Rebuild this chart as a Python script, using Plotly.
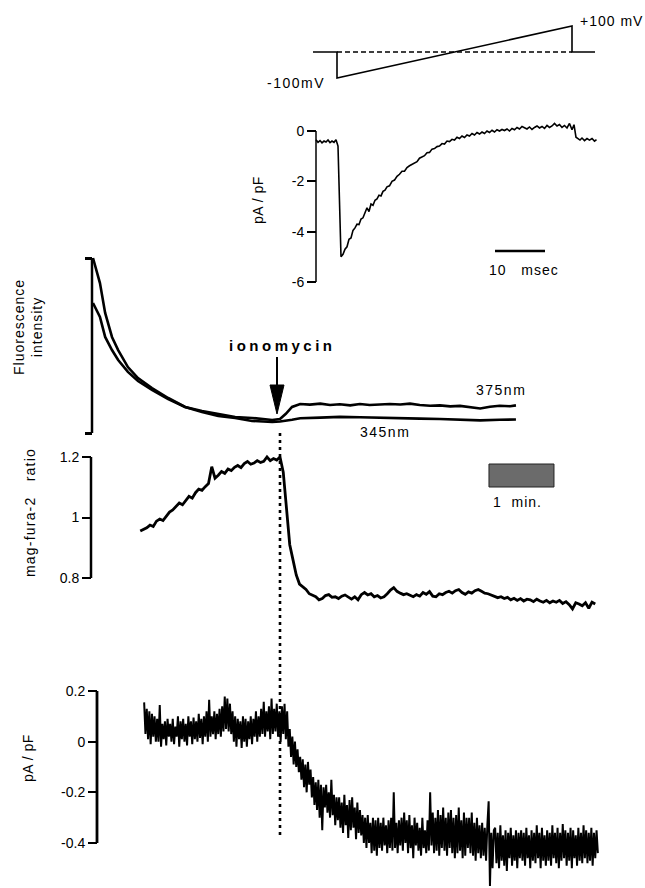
import plotly.graph_objects as go

W, H = 645, 888
FONT = "Liberation Sans, Arial, Helvetica, sans-serif"

# ---------------- data ----------------
# voltage-clamp protocol (ms, mV)
volt_t = [-4.8, 0, 0, 47, 47, 51.6]
volt_mv = [0, 0, -100, 100, 0, 0]
zero_t = [0, 47]
zero_mv = [0, 0]

# ramp current (ms, pA/pF)
ramp_t = [-4.2, -3.8, -3.4, -3.0, -2.6, -2.2, -1.8, -1.4, -1.0, -0.6, -0.2, 0.2, 0.5, 0.8,
          1.2, 1.6, 2.0, 2.4, 2.8, 3.2, 3.6, 4.0, 4.4, 4.8,
          5.2, 5.6, 6.0, 6.4, 6.8, 7.2, 7.6, 8.0, 8.4, 8.8,
          9.2, 9.6, 10.0, 10.5, 11.0, 11.5, 12.0, 12.5, 13.0, 13.5,
          14.0, 14.5, 15.0, 15.5, 16.0, 16.5, 17.0, 17.5, 18.0, 18.5,
          19.0, 19.5, 20.0, 20.5, 21.0, 21.5, 22.0, 22.5, 23.0, 23.5,
          24.0, 24.5, 25.0, 25.5, 26.0, 26.5, 27.0, 27.5, 28.0, 28.5,
          29.0, 29.5, 30.0, 30.5, 31.0, 31.5, 32.0, 32.5, 33.0, 33.5,
          34.0, 34.5, 35.0, 35.5, 36.0, 36.5, 37.0, 37.5, 38.0, 38.5,
          39.0, 39.5, 40.0, 40.5, 41.0, 41.5, 42.0, 42.5, 43.0, 43.5,
          44.0, 44.5, 45.0, 45.5, 46.0, 46.5, 47.0, 47.4, 47.8, 48.2,
          48.6, 49.0, 49.5, 50.0, 50.5, 51.0, 51.5, 51.9]
ramp_i = [-0.35, -0.45, -0.38, -0.47, -0.40, -0.44, -0.36, -0.46, -0.40, -0.45, -0.35, -0.6, -2.8, -5.0,
          -4.9, -4.7, -4.6, -4.3, -4.25, -3.95, -3.85, -3.7, -3.72, -3.5,
          -3.45, -3.25, -3.05, -3.2, -2.9, -2.95, -2.75, -2.7, -2.55, -2.58,
          -2.4, -2.35, -2.22, -2.18, -2.0, -1.95, -1.8, -1.72, -1.6, -1.6,
          -1.45, -1.38, -1.33, -1.25, -1.22, -1.08, -1.02, -0.98, -0.86, -0.85,
          -0.72, -0.7, -0.62, -0.6, -0.5, -0.52, -0.4, -0.42, -0.33, -0.36,
          -0.25, -0.3, -0.2, -0.26, -0.16, -0.2, -0.1, -0.16, -0.06, -0.12,
          -0.04, -0.1, 0.0, -0.06, 0.03, -0.04, 0.05, 0.0, 0.06, 0.02,
          0.08, 0.0, 0.1, 0.05, 0.14, 0.08, 0.18, 0.12, 0.08, 0.16,
          0.06, 0.14, 0.2, 0.12, 0.18, 0.1, 0.22, 0.14, 0.2, 0.3,
          0.2, 0.26, 0.14, 0.22, 0.12, 0.3, 0.05, 0.25, -0.25, -0.3,
          -0.36, -0.28, -0.38, -0.3, -0.36, -0.3, -0.4, -0.34]
ramp_ticks = [0, -2, -4, -6]
ramp_ticktext = ["0", "-2", "-4", "-6"]

# fluorescence intensity (min, arbitrary units)
fl_t_375 = [-2.877, -2.83, -2.77, -2.69, -2.585, -2.49, -2.34, -2.185, -1.97, -1.72, -1.46, -1.2,
            -0.95, -0.69, -0.43, -0.12, 0.0, 0.09, 0.185, 0.31, 0.46, 0.62, 0.77, 0.92, 1.08,
            1.23, 1.38, 1.54, 1.69, 1.85, 2.0, 2.15, 2.31, 2.46, 2.62, 2.77, 2.92, 3.08, 3.23,
            3.38, 3.54, 3.63]
fl_375 = [1.0, 0.94, 0.857, 0.686, 0.549, 0.474, 0.377, 0.314, 0.257, 0.2, 0.149, 0.126,
          0.109, 0.091, 0.086, 0.074, 0.08, 0.11, 0.149, 0.166, 0.162, 0.168, 0.16, 0.164, 0.158,
          0.166, 0.16, 0.162, 0.166, 0.163, 0.168, 0.16, 0.156, 0.158, 0.152, 0.155, 0.148, 0.14, 0.15,
          0.156, 0.153, 0.158]
fl_t_345 = [-2.877, -2.77, -2.69, -2.585, -2.49, -2.34, -2.185, -1.97, -1.72, -1.46, -1.2, -0.95,
            -0.69, -0.43, -0.12, 0.0, 0.185, 0.31, 0.62, 0.92, 1.23, 1.54, 1.85, 2.15, 2.46, 2.77,
            3.08, 3.38, 3.63]
fl_345 = [0.743, 0.663, 0.549, 0.474, 0.417, 0.349, 0.297, 0.246, 0.194, 0.149, 0.12, 0.097,
          0.086, 0.069, 0.063, 0.066, 0.076, 0.084, 0.088, 0.092, 0.09, 0.086, 0.084, 0.082, 0.08, 0.076,
          0.072, 0.076, 0.077]
fl_ticks = [0, 1]

# mag-fura-2 ratio, sampled every 0.05 min starting at -2.15 min
ratio_t0 = -2.15
ratio_dt = 0.05
ratio = [0.955, 0.960, 0.966, 0.975, 0.970, 0.988, 0.995, 0.990, 1.005, 1.018,
         1.025, 1.036, 1.048, 1.042, 1.058, 1.070, 1.064, 1.082, 1.094, 1.090,
         1.102, 1.112, 1.168, 1.130, 1.140, 1.152, 1.146, 1.160, 1.155, 1.166,
         1.172, 1.165, 1.178, 1.185, 1.176, 1.180, 1.188, 1.182, 1.186, 1.200,
         1.188, 1.195, 1.190, 1.200, 1.150, 1.020, 0.910, 0.860, 0.810, 0.780,
         0.772, 0.762, 0.748, 0.742, 0.738, 0.728, 0.732, 0.742, 0.745, 0.736,
         0.738, 0.732, 0.740, 0.744, 0.736, 0.730, 0.738, 0.728, 0.745, 0.752,
         0.744, 0.748, 0.738, 0.742, 0.734, 0.738, 0.748, 0.760, 0.768, 0.756,
         0.750, 0.745, 0.748, 0.742, 0.738, 0.745, 0.740, 0.752, 0.746, 0.755,
         0.740, 0.738, 0.748, 0.745, 0.752, 0.756, 0.750, 0.758, 0.762, 0.752,
         0.746, 0.754, 0.750, 0.758, 0.762, 0.756, 0.750, 0.748, 0.744, 0.740,
         0.735, 0.738, 0.732, 0.736, 0.728, 0.733, 0.726, 0.732, 0.724, 0.730,
         0.728, 0.722, 0.730, 0.724, 0.720, 0.726, 0.718, 0.724, 0.720, 0.726,
         0.716, 0.722, 0.712, 0.698, 0.718, 0.714, 0.708, 0.718, 0.700, 0.720,
         0.714]
ratio_ticks = [0.8, 1.0, 1.2]
ratio_ticktext = ["0.8", "1", "1.2"]

# whole-cell current (pA/pF), sampled every 0.02 min starting at -2.09 min
cur_t0 = -2.09
cur_dt = 0.02
cur = [0.155, 0.03, 0.13, 0.01, 0.12, -0.01, 0.11, 0.02, 0.10, 0.0,
       0.09, 0.0, 0.145, -0.02, 0.07, 0.01, 0.08, -0.015, 0.09, 0.02,
       0.07, 0.0, 0.09, -0.01, 0.06, 0.02, 0.1, -0.02, 0.08, 0.01,
       0.09, 0.0, 0.07, -0.015, 0.1, 0.02, 0.08, -0.01, 0.095, 0.01,
       0.08, 0.0, 0.11, 0.015, 0.09, -0.01, 0.1, 0.02, 0.12, 0.0,
       0.165, 0.02, 0.1, 0.03, 0.12, 0.01, 0.11, 0.03, 0.13, 0.02,
       0.14, 0.04, 0.178, 0.05, 0.17, 0.04, 0.15, 0.03, 0.12, 0.0,
       0.1, -0.02, 0.09, 0.01, 0.08, -0.025, 0.1, 0.0, 0.09, -0.02,
       0.08, 0.01, 0.1, -0.01, 0.09, 0.02, 0.12, 0.0, 0.1, 0.02,
       0.13, 0.03, 0.157, 0.02, 0.12, 0.04, 0.14, 0.01, 0.17, 0.03,
       0.13, 0.04, 0.15, 0.02, 0.12, 0.0, 0.14, 0.03, 0.15, 0.01,
       0.12, -0.02, 0.05, -0.06, 0.02, -0.09, 0.0, -0.1, -0.03, -0.12,
       -0.06, -0.15, -0.07, -0.18, -0.09, -0.2, -0.08, -0.17, -0.11, -0.22,
       -0.14, -0.25, -0.16, -0.27, -0.15, -0.3, -0.17, -0.35, -0.18, -0.26,
       -0.17, -0.28, -0.2, -0.3, -0.15, -0.29, -0.21, -0.33, -0.22, -0.31,
       -0.22, -0.34, -0.24, -0.36, -0.21, -0.33, -0.25, -0.38, -0.23, -0.35,
       -0.22, -0.34, -0.26, -0.385, -0.24, -0.36, -0.27, -0.37, -0.29, -0.4,
       -0.3, -0.42, -0.29, -0.4, -0.32, -0.44, -0.3, -0.43, -0.31, -0.45,
       -0.3, -0.42, -0.32, -0.43, -0.3, -0.41, -0.33, -0.44, -0.31, -0.42,
       -0.3, -0.43, -0.2, -0.42, -0.32, -0.44, -0.31, -0.41, -0.3, -0.43,
       -0.28, -0.4, -0.31, -0.44, -0.29, -0.42, -0.33, -0.46, -0.3, -0.41,
       -0.32, -0.43, -0.34, -0.45, -0.3, -0.42, -0.35, -0.44, -0.31, -0.43,
       -0.2, -0.41, -0.28, -0.44, -0.3, -0.43, -0.27, -0.45, -0.29, -0.42,
       -0.26, -0.43, -0.3, -0.45, -0.28, -0.42, -0.27, -0.44, -0.3, -0.46,
       -0.29, -0.44, -0.26, -0.43, -0.31, -0.46, -0.28, -0.45, -0.3, -0.42,
       -0.3, -0.44, -0.28, -0.45, -0.32, -0.47, -0.3, -0.44, -0.33, -0.46,
       -0.32, -0.45, -0.34, -0.47, -0.33, -0.235, -0.57, -0.36, -0.5, -0.35,
       -0.34, -0.48, -0.36, -0.5, -0.33, -0.47, -0.37, -0.49, -0.35, -0.51,
       -0.36, -0.46, -0.34, -0.49, -0.37, -0.47, -0.35, -0.5, -0.36, -0.46,
       -0.35, -0.47, -0.36, -0.49, -0.34, -0.46, -0.37, -0.5, -0.35, -0.47,
       -0.36, -0.48, -0.33, -0.46, -0.36, -0.5, -0.34, -0.47, -0.37, -0.49,
       -0.35, -0.47, -0.36, -0.49, -0.33, -0.46, -0.36, -0.48, -0.34, -0.5,
       -0.36, -0.47, -0.325, -0.46, -0.35, -0.49, -0.36, -0.47, -0.34, -0.5,
       -0.35, -0.46, -0.37, -0.49, -0.34, -0.47, -0.36, -0.48, -0.33, -0.46,
       -0.35, -0.48, -0.36, -0.47, -0.34, -0.49, -0.36, -0.46, -0.35, -0.44]
cur_ticks = [0.2, 0, -0.2, -0.4]
cur_ticktext = ["0.2", "0", "-0.2", "-0.4"]

ionomycin_t = 0.0
bar_ms_start, bar_ms_len = 31.6, 10
bar_min_start, bar_min_len = 3.215, 1

assert len(ramp_t) == len(ramp_i)
assert len(fl_t_375) == len(fl_375) and len(fl_t_345) == len(fl_345)

ratio_t = [ratio_t0 + k * ratio_dt for k in range(len(ratio))]
cur_t = [cur_t0 + k * cur_dt for k in range(len(cur))]


# ---------------- layout helpers ----------------
def X(p):
    return p / W


def Y(p):
    return 1 - p / H


def xr(v1, p1, v2, p2):
    s = (v2 - v1) / (p2 - p1)
    return [v1 - p1 * s, v1 + (W - p1) * s]


def yr(v1, p1, v2, p2, ptop, pbot):
    s = (v2 - v1) / (p2 - p1)
    return [v1 + (pbot - p1) * s, v1 + (ptop - p1) * s]


def sp(text, ls):
    return f'<span style="letter-spacing:{ls}px">{text}</span>'


def yax(pos, dom, rng, tv, tt, ticklen=9, tickwidth=2, labels=True):
    return dict(anchor="free", position=X(pos), domain=[Y(dom[1]), Y(dom[0])], range=rng,
                autorange=False, showgrid=False, zeroline=False, showline=False,
                ticks="outside", ticklen=ticklen, tickwidth=tickwidth, tickcolor="black",
                tickvals=tv, ticktext=tt, showticklabels=labels,
                tickfont=dict(family=FONT, size=14, color="black"), fixedrange=True)


fig = go.Figure()
blk = "black"

fig.add_trace(go.Scatter(x=volt_t, y=volt_mv, xaxis="x", yaxis="y", mode="lines",
                         line=dict(color=blk, width=1.6), hoverinfo="skip"))
fig.add_trace(go.Scatter(x=zero_t, y=zero_mv, xaxis="x", yaxis="y", mode="lines",
                         line=dict(color=blk, width=1.3, dash="5px,3px"), hoverinfo="skip"))
fig.add_trace(go.Scatter(x=ramp_t, y=ramp_i, xaxis="x", yaxis="y2", mode="lines",
                         line=dict(color=blk, width=1.6), hoverinfo="skip"))
fig.add_trace(go.Scatter(x=fl_t_375, y=fl_375, xaxis="x2", yaxis="y3", mode="lines",
                         line=dict(color=blk, width=2.6), hoverinfo="skip"))
fig.add_trace(go.Scatter(x=fl_t_345, y=fl_345, xaxis="x2", yaxis="y3", mode="lines",
                         line=dict(color=blk, width=2.6), hoverinfo="skip"))
fig.add_trace(go.Scatter(x=ratio_t, y=ratio, xaxis="x2", yaxis="y4", mode="lines",
                         line=dict(color=blk, width=2.8), hoverinfo="skip"))
fig.add_trace(go.Scatter(x=cur_t, y=cur, xaxis="x2", yaxis="y5", mode="lines",
                         line=dict(color=blk, width=2.0), hoverinfo="skip"))

fig.update_layout(
    width=W, height=H, margin=dict(l=0, r=0, t=0, b=0),
    paper_bgcolor="white", plot_bgcolor="rgba(0,0,0,0)", showlegend=False,
    xaxis=dict(domain=[0, 1], range=xr(0, 337, 10, 387), visible=False, fixedrange=True),
    xaxis2=dict(domain=[0, 1], range=xr(0, 280, 1, 345), visible=False, fixedrange=True),
    yaxis=dict(domain=[Y(100), Y(0)], range=yr(-100, 78, 100, 26, 0, 100), visible=False,
               anchor="x", fixedrange=True),
    yaxis2=yax(316, (105, 295), yr(0, 131, -6, 282, 105, 295), ramp_ticks, ramp_ticktext,
               ticklen=9, tickwidth=1.5),
    yaxis3=yax(92, (245, 445), yr(1, 258, 0, 433, 245, 445), fl_ticks, ["", ""],
               ticklen=7, tickwidth=2.5, labels=False),
    yaxis4=yax(91, (440, 620), yr(1.2, 457, 0.8, 578, 440, 620), ratio_ticks, ratio_ticktext,
               ticklen=9, tickwidth=2),
    yaxis5=yax(97, (672, 888), yr(0.2, 691, -0.4, 843, 672, 888), cur_ticks, cur_ticktext,
               ticklen=9, tickwidth=2),
)

shapes = [
    # axis spines
    dict(type="line", xref="paper", yref="y2", x0=X(316), x1=X(316), y0=ramp_ticks[-1], y1=ramp_ticks[0],
         line=dict(color=blk, width=1.5)),
    dict(type="line", xref="paper", yref="y3", x0=X(92), x1=X(92), y0=fl_ticks[0], y1=fl_ticks[-1],
         line=dict(color=blk, width=2.5)),
    dict(type="line", xref="paper", yref="y4", x0=X(91), x1=X(91), y0=ratio_ticks[0], y1=ratio_ticks[-1],
         line=dict(color=blk, width=2.5)),
    dict(type="line", xref="paper", yref="y5", x0=X(97), x1=X(97), y0=cur_ticks[-1], y1=cur_ticks[0],
         line=dict(color=blk, width=2.8)),
    # 10 msec scale bar
    dict(type="line", xref="x", yref="paper", x0=bar_ms_start, x1=bar_ms_start + bar_ms_len,
         y0=Y(251), y1=Y(251), line=dict(color=blk, width=2.5)),
    # 1 min scale bar
    dict(type="rect", xref="x2", yref="paper", x0=bar_min_start, x1=bar_min_start + bar_min_len,
         y0=Y(487), y1=Y(464), fillcolor="#6b6b6b", line=dict(color="#222", width=1)),
    # ionomycin dotted line
    dict(type="line", xref="x2", yref="paper", x0=ionomycin_t, x1=ionomycin_t, y0=Y(433), y1=Y(838),
         line=dict(color=blk, width=2.6, dash="3px,4px")),
    # arrow shaft + head
    dict(type="line", xref="paper", yref="paper", x0=X(277), x1=X(277), y0=Y(357), y1=Y(390),
         line=dict(color=blk, width=2)),
    dict(type="path", xref="paper", yref="paper",
         path=f"M {X(270)},{Y(385)} L {X(284)},{Y(385)} L {X(277)},{Y(414)} Z",
         fillcolor=blk, line=dict(color=blk, width=1)),
]
fig.update_layout(shapes=shapes)


def ann(text, x, y, size=14, angle=0, xanchor="center", yanchor="middle"):
    return dict(text=text, x=X(x), y=Y(y), xref="paper", yref="paper", showarrow=False,
                textangle=angle, xanchor=xanchor, yanchor=yanchor,
                font=dict(family=FONT, size=size, color=blk))


nb = "\u00a0"
annotations = [
    ann(sp("-100mV", 1.5), 327, 83, xanchor="right"),
    ann(sp("+100 mV", 1), 578, 21, xanchor="left"),
    ann(sp("pA / pF", 0.5), 258, 200, angle=-90),
    ann(sp(f"10{nb}{nb}{nb}msec", 1), 524, 270),
    ann(sp("Fluorescence<br>intensity", 1), 28, 327, angle=-90),
    ann("<b>" + sp("ionomycin", 3.5) + "</b>", 282, 345, size=15),
    ann(sp("375nm", 1.5), 501, 390),
    ann(sp("345nm", 1.5), 385, 432),
    ann(sp(f"mag-fura-2{nb}{nb}{nb}ratio", 1.2), 30, 513, angle=-90),
    ann(sp(f"1{nb}{nb}min.", 1), 517, 502),
    ann(sp("pA / pF", 0.5), 28, 758, angle=-90),
]
fig.update_layout(annotations=annotations)

fig.write_html("out.html")
